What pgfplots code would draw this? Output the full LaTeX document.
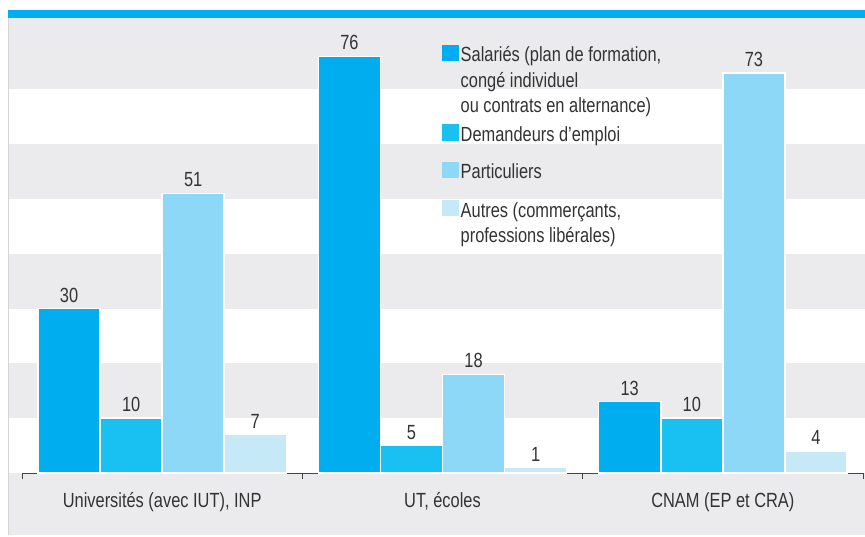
\documentclass[border=0pt]{standalone}
\usepackage{fontspec}
\setmainfont{Liberation Sans}[FakeStretch=0.8]
\usepackage{pgfplots}
\pgfplotsset{compat=1.18}
\definecolor{c1}{HTML}{00AEEF}
\definecolor{c2}{HTML}{18C1F2}
\definecolor{c3}{HTML}{8DD8F6}
\definecolor{c4}{HTML}{C6E9F8}
\definecolor{bg}{HTML}{EBEBED}
\definecolor{txt}{HTML}{333333}
\definecolor{axgray}{HTML}{444444}
\begin{document}
\begin{tikzpicture}[x=1pt,y=1pt]
\useasboundingbox (0,0) rectangle (865,536);
\fill[bg] (8,1) rectangle (865,518);
\foreach \a in {0,20,40,60} {\fill[white] (8,{63+5.4819*\a}) rectangle (865,{63+5.4819*(\a+10)});}
\draw[bg!80!gray, line width=0.8pt] (8,1) -- (8,518);
\fill[c1] (8,518) rectangle (865,526);
\begin{axis}[
  at={(22pt,63pt)}, anchor=south west,
  scale only axis, width=841pt, height=455pt,
  xmin=-0.5, xmax=2.5, ymin=0, ymax=83,
  axis y line=none, axis x line*=bottom,
  x axis line style={axgray, line width=1pt, -},
  ybar, bar width=0.2214,
  /pgf/number format/assume math mode=true,
  xtick={0,1,2},
  xticklabels={{Universités (avec IUT), INP},{UT, écoles},{CNAM (EP et CRA)}},
  major tick length=0pt,
  minor xtick={-0.5,0.5,1.5,2.5},
  minor tick length=6pt, tick align=outside,
  tick style={axgray, line width=1pt},
  xticklabel style={font=\fontsize{20.5}{24}\selectfont, text=txt, anchor=base, yshift=-34pt},
  nodes near coords,
  nodes near coords style={font=\fontsize{20.5}{24}\selectfont, text=txt, anchor=south, inner sep=5.5pt},
  legend style={at={(0.4994,0.948)}, anchor=north west, draw=none, fill=none,
    font=\fontsize{20.5}{25.5}\selectfont, text=txt,
    cells={anchor=north west, align=left, inner xsep=3.5pt, inner ysep=0pt},
    row sep=5pt, inner sep=0pt},
]
\addplot[fill=c1, draw=white, line width=1.5pt, bar shift=-0.3321,
  legend image code/.code={\fill[c1] (0pt,-18.5pt) rectangle (15pt,-3.5pt);}] coordinates {(0,30) (1,76) (2,13)};
\addplot[fill=c2, draw=white, line width=1.5pt, bar shift=-0.1107,
  legend image code/.code={\fill[c2] (0pt,-18.5pt) rectangle (15pt,-3.5pt);}] coordinates {(0,10) (1,5) (2,10)};
\addplot[fill=c3, draw=white, line width=1.5pt, bar shift=0.1107,
  legend image code/.code={\fill[c3] (0pt,-27.35pt) rectangle (15pt,-12.35pt);}] coordinates {(0,51) (1,18) (2,73)};
\addplot[fill=c4, draw=white, line width=1.5pt, bar shift=0.3321,
  legend image code/.code={\fill[c4] (0pt,-28.15pt) rectangle (15pt,-13.15pt);}] coordinates {(0,7) (1,1) (2,4)};
\legend{{\strut Salariés (plan de formation,\\congé individuel\\ou contrats en alternance)},
  {\strut Demandeurs d'emploi},
  {\rule{0pt}{26.7pt}Particuliers},
  {\rule{0pt}{27.5pt}Autres (commerçants,\\professions libérales)}}
\end{axis}
\end{tikzpicture}
\end{document}
